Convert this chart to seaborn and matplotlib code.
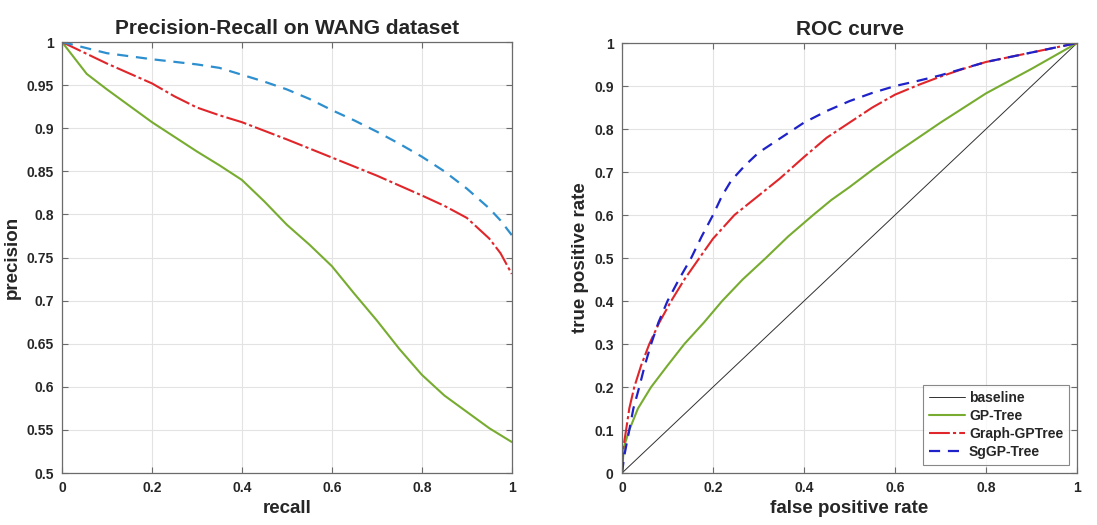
import matplotlib
matplotlib.use("Agg")
import numpy as np
import seaborn as sns
import matplotlib.pyplot as plt

# ---- Precision-Recall data ----
pr_gp_recall = [0, 0.055, 0.1, 0.2, 0.3, 0.35, 0.4, 0.45, 0.5, 0.55, 0.6, 0.65,
                0.7, 0.75, 0.8, 0.85, 0.9, 0.95, 1.0]
pr_gp_precision = [1.0, 0.963, 0.945, 0.907, 0.873, 0.857, 0.840, 0.815, 0.788, 0.765,
                   0.740, 0.708, 0.677, 0.644, 0.614, 0.590, 0.571, 0.552, 0.536]

pr_graph_recall = [0, 0.1, 0.2, 0.25, 0.3, 0.35, 0.4, 0.5, 0.6, 0.7, 0.8, 0.85,
                   0.9, 0.95, 0.975, 1.0]
pr_graph_precision = [1.0, 0.975, 0.952, 0.937, 0.924, 0.915, 0.907, 0.887, 0.866, 0.845,
                      0.822, 0.810, 0.796, 0.772, 0.755, 0.731]

pr_sg_recall = [0, 0.1, 0.2, 0.3, 0.35, 0.4, 0.45, 0.5, 0.55, 0.6, 0.65, 0.7, 0.75,
                0.8, 0.85, 0.9, 0.95, 0.975, 1.0]
pr_sg_precision = [1.0, 0.987, 0.980, 0.974, 0.970, 0.962, 0.954, 0.945, 0.934, 0.921,
                   0.909, 0.896, 0.882, 0.867, 0.850, 0.830, 0.807, 0.793, 0.776]

# ---- ROC data ----
roc_base_fpr = [0, 1]
roc_base_tpr = [0, 1]

roc_gp_fpr = [0, 0.004, 0.016, 0.035, 0.064, 0.1, 0.137, 0.18, 0.22, 0.265, 0.316,
              0.365, 0.42, 0.46, 0.5, 0.55, 0.6, 0.7, 0.8, 0.9, 1.0]
roc_gp_tpr = [0, 0.06, 0.1, 0.15, 0.2, 0.25, 0.3, 0.35, 0.4, 0.45, 0.5,
              0.55, 0.6, 0.635, 0.665, 0.705, 0.743, 0.815, 0.883, 0.94, 1.0]

roc_graph_fpr = [0, 0.003, 0.009, 0.016, 0.027, 0.042, 0.06, 0.082, 0.108, 0.137,
                 0.17, 0.2, 0.247, 0.3, 0.347, 0.4, 0.45, 0.5, 0.55, 0.6, 0.65,
                 0.7, 0.75, 0.8, 0.9, 1.0]
roc_graph_tpr = [0, 0.06, 0.1, 0.15, 0.2, 0.25, 0.3, 0.35, 0.4, 0.45,
                 0.5, 0.545, 0.6, 0.645, 0.685, 0.735, 0.78, 0.815, 0.85, 0.88, 0.902,
                 0.922, 0.94, 0.956, 0.978, 1.0]

roc_sg_fpr = [0, 0.005, 0.016, 0.025, 0.038, 0.05, 0.064, 0.08, 0.10, 0.125, 0.152,
              0.175, 0.2, 0.22, 0.24, 0.27, 0.3, 0.347, 0.4, 0.45, 0.5, 0.55, 0.6,
              0.65, 0.7, 0.8, 0.9, 1.0]
roc_sg_tpr = [0, 0.04, 0.1, 0.15, 0.2, 0.25, 0.3, 0.35, 0.4, 0.45, 0.5,
              0.55, 0.6, 0.645, 0.68, 0.715, 0.745, 0.778, 0.815, 0.842, 0.865, 0.884, 0.9,
              0.912, 0.925, 0.956, 0.978, 1.0]

# MATLAB-like colours
GREEN = "#77ac30"
RED = "#e0262a"
LIGHT_BLUE = "#2e8fcf"
DARK_BLUE = "#1e22c8"

sns.set_style("ticks")
plt.rcParams["font.family"] = ["Liberation Sans", "DejaVu Sans"]
plt.rcParams["font.weight"] = "bold"
plt.rcParams["axes.labelweight"] = "bold"
plt.rcParams["axes.titleweight"] = "bold"

fig = plt.figure(figsize=(10.97, 5.25), dpi=100)
ax1 = fig.add_axes([0.0565, 0.099, 0.410, 0.821])
ax2 = fig.add_axes([0.567, 0.099, 0.4148, 0.819])


def matlab_fmt(v):
    s = f"{v:.2f}".rstrip("0").rstrip(".")
    return s


def style_axes(ax, xticks, yticks):
    ax.set_xticks(xticks)
    ax.set_yticks(yticks)
    ax.set_xticklabels([matlab_fmt(t) for t in xticks])
    ax.set_yticklabels([matlab_fmt(t) for t in yticks])
    ax.grid(True, color="#e3e3e3", linewidth=0.8)
    ax.set_axisbelow(True)
    for sp in ax.spines.values():
        sp.set_visible(True)
        sp.set_color("#6b6b6b")
        sp.set_linewidth(0.9)
    ax.tick_params(direction="in", length=4, width=0.8, color="#6b6b6b",
                   labelsize=10, labelcolor="#262626", top=True, right=True,
                   pad=6)
    for lab in ax.get_xticklabels() + ax.get_yticklabels():
        lab.set_fontweight("bold")


DASHDOT = (0, (10, 1.5, 1.5, 1.5))
DASHED = (0, (5, 3.5))

# ---- left panel ----
sns.lineplot(x=pr_gp_recall, y=pr_gp_precision, ax=ax1, color=GREEN,
             linewidth=1.5, estimator=None, sort=False)
sns.lineplot(x=pr_graph_recall, y=pr_graph_precision, ax=ax1, color=RED,
             linewidth=1.5, linestyle=DASHDOT, estimator=None, sort=False)
sns.lineplot(x=pr_sg_recall, y=pr_sg_precision, ax=ax1, color=LIGHT_BLUE,
             linewidth=1.6, linestyle=DASHED, estimator=None, sort=False)
ax1.set_xlim(0, 1)
ax1.set_ylim(0.5, 1)
style_axes(ax1, [0, 0.2, 0.4, 0.6, 0.8, 1.0], list(np.round(np.arange(0.5, 1.0001, 0.05), 2)))
ax1.set_title("Precision-Recall on WANG dataset", fontsize=15, pad=6)
ax1.set_xlabel("recall", fontsize=13.5, labelpad=3)
ax1.set_ylabel("precision", fontsize=13.5, labelpad=4)

# ---- right panel ----
sns.lineplot(x=roc_base_fpr, y=roc_base_tpr, ax=ax2, color="#303030",
             linewidth=0.7, estimator=None, sort=False, label="baseline")
sns.lineplot(x=roc_gp_fpr, y=roc_gp_tpr, ax=ax2, color=GREEN,
             linewidth=1.5, estimator=None, sort=False, label="GP-Tree")
sns.lineplot(x=roc_graph_fpr, y=roc_graph_tpr, ax=ax2, color=RED,
             linewidth=1.5, linestyle=DASHDOT, estimator=None,
             sort=False, label="Graph-GPTree")
sns.lineplot(x=roc_sg_fpr, y=roc_sg_tpr, ax=ax2, color=DARK_BLUE,
             linewidth=1.6, linestyle=DASHED, estimator=None,
             sort=False, label="SgGP-Tree")
ax2.set_xlim(0, 1)
ax2.set_ylim(0, 1)
style_axes(ax2, [0, 0.2, 0.4, 0.6, 0.8, 1.0], list(np.round(np.arange(0, 1.0001, 0.1), 1)))
ax2.set_title("ROC curve", fontsize=15, pad=6)
ax2.set_xlabel("false positive rate", fontsize=13.5, labelpad=3)
ax2.set_ylabel("true positive rate", fontsize=13.5, labelpad=4)

leg = ax2.legend(loc="lower right", fontsize=10, frameon=True, fancybox=False,
                 borderpad=0.4, labelspacing=0.3, handlelength=2.6,
                 handletextpad=0.3, borderaxespad=0.6)
leg.get_frame().set_edgecolor("#6b6b6b")
leg.get_frame().set_linewidth(0.8)
for t in leg.get_texts():
    t.set_fontweight("bold")
    t.set_color("#262626")

fig.savefig("out.png", dpi=100)
